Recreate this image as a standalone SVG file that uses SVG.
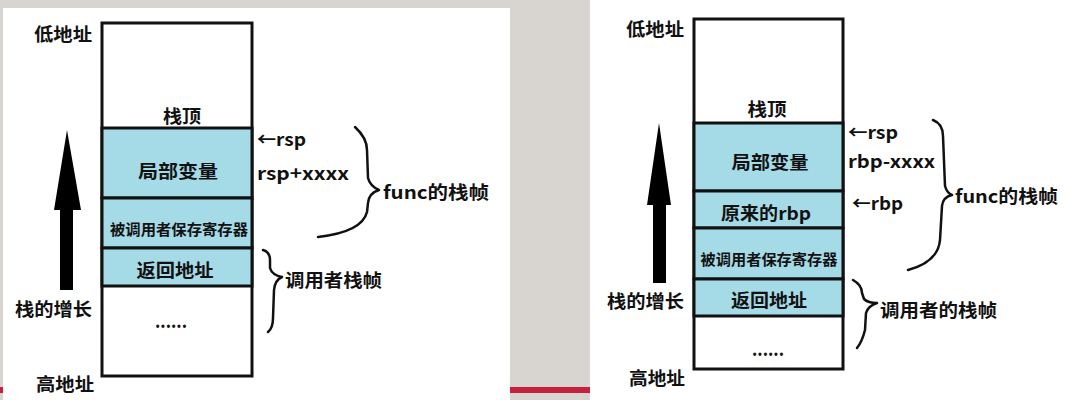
<svg xmlns="http://www.w3.org/2000/svg" width="1068" height="400" viewBox="0 0 1068 400">
<style>
text{font-family:"Noto Sans CJK SC","Microsoft YaHei",sans-serif;font-weight:bold;fill:#111;dominant-baseline:central}
.c{text-anchor:middle}
.l{font-size:18px}
.s{font-size:15px}
.frame{fill:none;stroke:#111;stroke-width:3}
.blue{fill:#a5dae7;stroke:#111;stroke-width:3}
.brace{fill:none;stroke:#111;stroke-width:2.5;stroke-linecap:round;stroke-linejoin:round}
.arr{fill:#000}
</style>
<rect x="0" y="0" width="1068" height="400" fill="#d8d5d1"/>
<rect x="0" y="387" width="600" height="6" fill="#c4213c"/>
<rect x="3" y="8" width="507" height="392" fill="#fff"/>
<rect x="590" y="0" width="478" height="400" fill="#fff"/>

<!-- LEFT DIAGRAM -->
<g id="left-stack">
<rect class="frame" x="102" y="23" width="150" height="353" fill="#fff"/>
</g>
<g id="left-top"><text class="l c" x="182" y="115" textLength="38" lengthAdjust="spacingAndGlyphs">栈顶</text></g>
<g id="left-locals"><rect class="blue" x="102" y="128" width="150" height="70"/><text class="l c" x="178" y="170" textLength="80" lengthAdjust="spacingAndGlyphs">局部变量</text></g>
<g id="left-callee"><rect class="blue" x="102" y="198" width="150" height="50"/><text class="s c" x="179" y="228" textLength="138" lengthAdjust="spacingAndGlyphs">被调用者保存寄存器</text></g>
<g id="left-ret"><rect class="blue" x="102" y="248" width="150" height="38"/><text class="l c" x="175" y="269" textLength="77" lengthAdjust="spacingAndGlyphs">返回地址</text></g>
<g id="left-dots"><text class="l c" x="171" y="320" textLength="32" lengthAdjust="spacingAndGlyphs">......</text></g>
<g id="left-labels">
<text class="l" x="34" y="33" textLength="58" lengthAdjust="spacingAndGlyphs">低地址</text>
<text class="l" x="15" y="308" textLength="77" lengthAdjust="spacingAndGlyphs">栈的增长</text>
<text class="l" x="36" y="383" textLength="58" lengthAdjust="spacingAndGlyphs">高地址</text>
<text class="l" x="257" y="138" textLength="49" lengthAdjust="spacingAndGlyphs">←rsp</text>
<text class="l" x="257" y="172" textLength="92" lengthAdjust="spacingAndGlyphs">rsp+xxxx</text>
<text class="l" x="383" y="191" textLength="106" lengthAdjust="spacingAndGlyphs">func的栈帧</text>
<text class="l" x="285" y="279" textLength="97" lengthAdjust="spacingAndGlyphs">调用者栈帧</text>
</g>

<!-- RIGHT DIAGRAM -->
<g id="right-stack">
<rect class="frame" x="694" y="19" width="149" height="350" fill="#fff"/>
</g>
<g id="right-top"><text class="l c" x="767" y="108" textLength="39" lengthAdjust="spacingAndGlyphs">栈顶</text></g>
<g id="right-locals"><rect class="blue" x="694" y="123" width="149" height="68"/><text class="l c" x="770" y="161" textLength="77" lengthAdjust="spacingAndGlyphs">局部变量</text></g>
<g id="right-oldrbp"><rect class="blue" x="694" y="191" width="149" height="37"/><text class="l c" x="766" y="212" textLength="90" lengthAdjust="spacingAndGlyphs">原来的rbp</text></g>
<g id="right-callee"><rect class="blue" x="694" y="228" width="149" height="51"/><text class="s c" x="769" y="258" textLength="137" lengthAdjust="spacingAndGlyphs">被调用者保存寄存器</text></g>
<g id="right-ret"><rect class="blue" x="694" y="279" width="149" height="37"/><text class="l c" x="769" y="299" textLength="76" lengthAdjust="spacingAndGlyphs">返回地址</text></g>
<g id="right-dots"><text class="l c" x="768" y="348" textLength="32" lengthAdjust="spacingAndGlyphs">......</text></g>
<g id="right-labels">
<text class="l" x="626" y="28" textLength="58" lengthAdjust="spacingAndGlyphs">低地址</text>
<text class="l" x="607" y="300" textLength="77" lengthAdjust="spacingAndGlyphs">栈的增长</text>
<text class="l" x="629" y="377" textLength="56" lengthAdjust="spacingAndGlyphs">高地址</text>
<text class="l" x="848" y="131" textLength="50" lengthAdjust="spacingAndGlyphs">←rsp</text>
<text class="l" x="848" y="160" textLength="87" lengthAdjust="spacingAndGlyphs">rbp-xxxx</text>
<text class="l" x="852" y="202" textLength="51" lengthAdjust="spacingAndGlyphs">←rbp</text>
<text class="l" x="955" y="195" textLength="103" lengthAdjust="spacingAndGlyphs">func的栈帧</text>
<text class="l" x="880" y="309" textLength="117" lengthAdjust="spacingAndGlyphs">调用者的栈帧</text>
</g>

<g id="connectors">
<polygon class="arr" points="67,130 81,210 73,210 73,290 60,290 60,210 54,210"/>
<polygon class="arr" points="659,123 671,205 666,205 666,283 653,283 653,205 647,205"/>
<path class="brace" d="M355,127 Q367,138 367,150 L368,178 Q370,186 379,190 Q369,193 368,203 L367,212 Q362,232 318,237"/>
<path class="brace" d="M263,250 Q270,252 270,260 L270,268 Q272,275 282,277 Q275,280 274,290 L273,318 Q273,328 268,332"/>
<path class="brace" d="M933,120 Q943,124 943,136 L945,186 Q947,193 952,195 Q943,197 942,206 L940,240 Q938,262 908,270"/>
<path class="brace" d="M853,280 Q862,285 862,293 L864,299 Q868,303 877,303 Q868,306 866,313 L865,330 Q862,342 857,348"/>
</g>
</svg>
